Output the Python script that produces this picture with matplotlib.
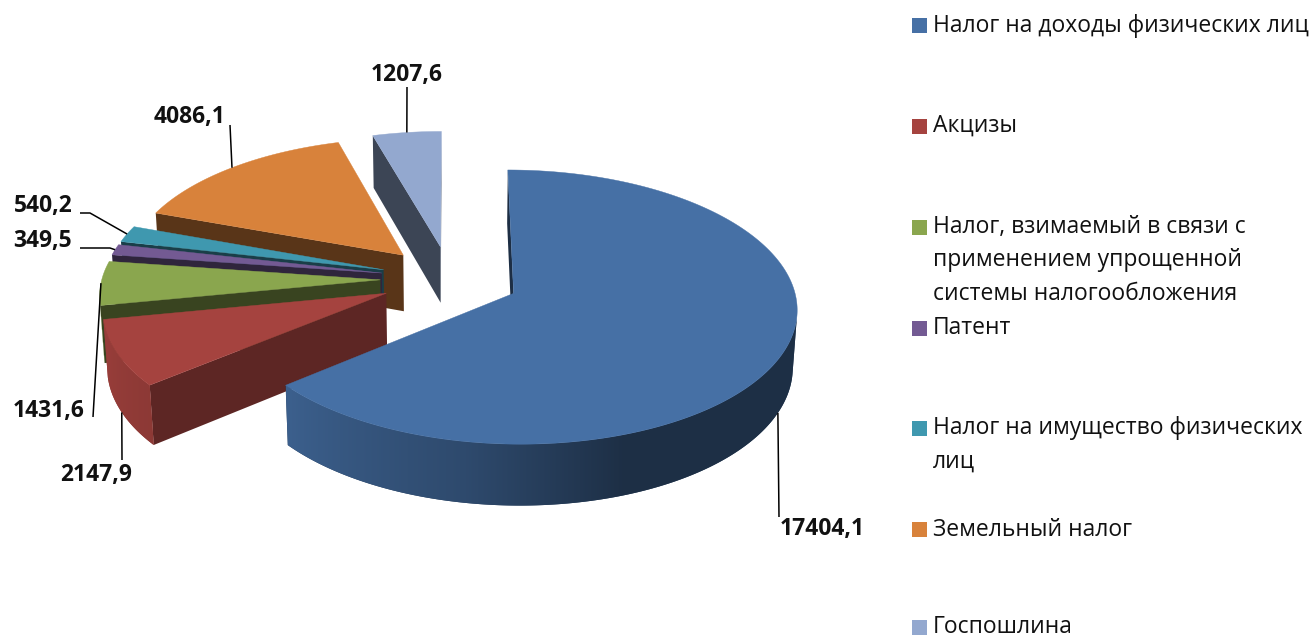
import numpy as np
import matplotlib.pyplot as plt
from matplotlib.patches import Polygon, Rectangle

plt.rcParams['font.family'] = ['Open Sans', 'DejaVu Sans']

# -------------------- data -------------------------
categories = ['Налог на доходы физических лиц',
              'Акцизы',
              'Налог, взимаемый в связи с\nприменением упрощенной\nсистемы налогообложения',
              'Патент',
              'Налог на имущество физических\nлиц',
              'Земельный налог',
              'Госпошлина']
values = [17404.1, 2147.9, 1431.6, 349.5, 540.2, 4086.1, 1207.6]
colors = ['#4670A5', '#A5433F', '#8AA64E', '#735A93', '#3F98AF', '#D8823B', '#93A8CF']

# -------------------- 3d view (pixels) -------------------------
phi = np.radians(28.5)      # elevation
D = 8.87                    # camera distance (in pie radii)
f = 2470.0                  # focal length in px
cx, cy = 450.0, 279.0       # screen position of pie centre
H = 0.235                   # thickness
explode = 0.25
cam = np.array([0.0, -D * np.cos(phi), D * np.sin(phi)])


def proj(X, Y, Z):
    X, Y, Z = np.broadcast_arrays(np.asarray(X, float), np.asarray(Y, float), np.asarray(Z, float))
    yp = Y * np.sin(phi) + Z * np.cos(phi)
    w = D + Y * np.cos(phi) - Z * np.sin(phi)
    return np.column_stack([cx + f * X / w, cy - f * yp / w])


def shade(c, k):
    rgb = np.array(plt.matplotlib.colors.to_rgb(c))
    return np.clip(rgb * k, 0, 1)


def side_k(t):
    return np.interp(np.asarray(t) % 360, [0, 180, 220, 260, 290, 360],
                     [0.42, 0.95, 0.85, 0.66, 0.42, 0.42])


def cut_k(t):
    return np.interp(t % 360, [0, 180, 290, 310, 360], [0.41, 0.41, 0.41, 0.57, 0.57])


def d2(t):
    return np.array([np.cos(np.radians(t)), np.sin(np.radians(t))])


fig = plt.figure(figsize=(13.15, 6.39), dpi=100)
ax = fig.add_axes([0, 0, 1, 1])
ax.set_xlim(0, 1315)
ax.set_ylim(639, 0)
ax.axis('off')

vals = np.array(values)
sweep = 360 * vals / vals.sum()
ends = 90 - np.cumsum(sweep)
starts = ends + sweep
mids = (starts + ends) / 2

z = 1
anchors = {}
for i in [6, 5, 4, 3, 2, 1, 0]:
    t0, t1, m = starts[i], ends[i], mids[i]
    O = explode * d2(m)
    col = colors[i]
    # cut faces
    for t, nt in [(t0, t0 + 90), (t1, t1 - 90)]:
        if d2(nt) @ (cam[:2] - O) > 0:
            P = O + d2(t)
            pts = proj([O[0], P[0], P[0], O[0]], [O[1], P[1], P[1], O[1]], [0, 0, -H, -H])
            ax.add_patch(Polygon(pts, closed=True, fc=shade(col, cut_k(nt)),
                                 ec='none', zorder=z))
            z += 1
    # outer side: visible part as one polygon, filled with a horizontal gradient
    ts = np.linspace(t0, t1, max(60, int(abs(t0 - t1) * 4)))
    P = O[:, None] + np.array([np.cos(np.radians(ts)), np.sin(np.radians(ts))])
    vis = np.cos(np.radians(ts)) * (cam[0] - P[0]) + np.sin(np.radians(ts)) * (cam[1] - P[1]) > 0
    if vis.sum() > 1:
        idx = np.where(vis)[0]
        tv = ts[idx[0]:idx[-1] + 1]
        A = O[:, None] + np.array([np.cos(np.radians(tv)), np.sin(np.radians(tv))])
        top = proj(A[0], A[1], 0)
        bot = proj(A[0], A[1], -H)
        poly_pts = np.vstack([top, bot[::-1]])
        kk = side_k(tv)
        base = Polygon(poly_pts, closed=True, fc=shade(col, kk.mean()), ec='none', zorder=z)
        ax.add_patch(base)
        z += 1
        x0, x1 = poly_pts[:, 0].min(), poly_pts[:, 0].max()
        y0, y1 = poly_pts[:, 1].min(), poly_pts[:, 1].max()
        gx = np.linspace(x0, x1, 400)
        order = np.argsort(bot[:, 0])
        gk = np.interp(gx, bot[order, 0], kk[order])
        img = np.array([shade(col, k) for k in gk])[None, :, :]
        im = ax.imshow(img, extent=[x0, x1, y1, y0], aspect='auto',
                       interpolation='bilinear', zorder=z)
        im.set_clip_path(base)
        z += 1
    # top
    arc = O[:, None] + np.array([np.cos(np.radians(ts)), np.sin(np.radians(ts))])
    xs = np.concatenate([[O[0]], arc[0]])
    ys = np.concatenate([[O[1]], arc[1]])
    ax.add_patch(Polygon(proj(xs, ys, 0), closed=True, fc=col, ec=col, lw=0.3, zorder=z))
    z += 1
    # leader anchor
    Pm = O + d2(m)
    zz = -H if np.sin(np.radians(m)) < -0.2 else 0
    anchors[i] = proj(Pm[0], Pm[1], zz)[0]

ax.set_xlim(0, 1315)
ax.set_ylim(639, 0)

# -------------------- data labels -------------------------
label_pos = {0: (822, 529), 1: (96, 475), 2: (49, 411), 3: (43, 241),
             4: (43, 206), 5: (190, 117), 6: (407, 75)}
leader_start = {0: [(779, 517)], 1: [(122, 460)], 2: [(93, 417)],
                3: [(80, 248), (110, 248)], 4: [(80, 213), (90, 213)],
                5: [(230, 125)], 6: [(407, 87)]}
for i, v in enumerate(values):
    txt = f'{v:.1f}'.replace('.', ',')
    ax.text(*label_pos[i], txt, ha='center', va='center', fontsize=16.5,
            fontweight='bold', color='#111111', zorder=z + 2)
    pts = np.array(leader_start[i] + [tuple(anchors[i])])
    ax.plot(pts[:, 0], pts[:, 1], color='black', lw=1.1, solid_capstyle='butt', zorder=z + 1)

# -------------------- legend -------------------------
row_y = [25.5, 126, 227.5, 328, 428.5, 529.5, 627]
for i, name in enumerate(categories):
    ax.add_patch(Rectangle((912, row_y[i] - 7.5), 15, 15, fc=colors[i], ec='none', zorder=z))
    for k, line in enumerate(name.split('\n')):
        ax.text(933, row_y[i] + 33 * k, line, ha='left', va='center',
                fontsize=16.5, color='#111111', zorder=z)

fig.savefig('out.png', dpi=100)
